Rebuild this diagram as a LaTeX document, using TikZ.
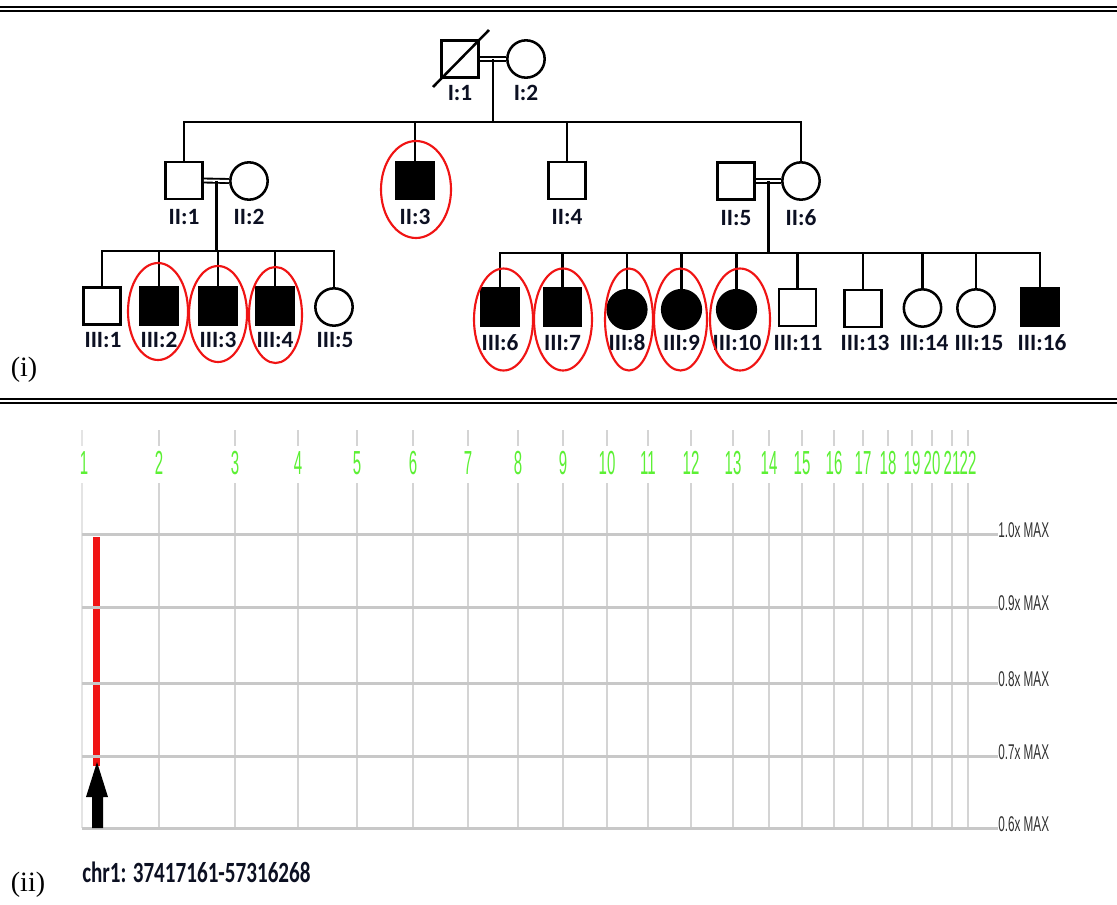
\documentclass[tikz,border=0pt]{standalone}
\usepackage{fontspec}
\usepackage{graphicx}
\usetikzlibrary{calc}
\newfontfamily\pedfont{Carlito}
\newfontfamily\arialf{Liberation Sans}
\newfontfamily\timesf{Liberation Serif}
\definecolor{pednavy}{RGB}{12,16,34}
\definecolor{chrgreen}{RGB}{92,240,52}
\definecolor{vgray}{RGB}{212,212,212}
\definecolor{hgray}{RGB}{200,200,200}
\definecolor{maxgray}{RGB}{50,50,50}
\definecolor{hlred}{RGB}{240,20,20}
\definecolor{firstgray}{RGB}{228,228,228}
\tikzset{
  pl/.style={line width=1.9pt, line join=miter},
  sq/.style={draw, line width=1.9pt, minimum size=28pt, inner sep=0pt, fill=white},
  sqa/.style={sq, fill=black},
  ci/.style={circle, draw, line width=1.9pt, minimum size=28pt, inner sep=0pt, fill=white},
  cia/.style={ci, fill=black, minimum size=29pt},
  dbl/.style={double, double distance=1.6pt, line width=1.4pt},
  lab/.style={font=\pedfont\bfseries\fontsize{17.5}{17.5}\selectfont, text=pednavy, inner sep=0pt},
  hl/.style={draw=hlred, line width=1.6pt},
  rule/.style={line width=1.5pt, black},
  vg/.style={draw=vgray, line width=1.5pt},
  hg/.style={draw=hgray, line width=2.25pt},
  chrnum/.style={font=\arialf\fontsize{25}{25}\selectfont, text=chrgreen, inner sep=0pt},
  maxlab/.style={font=\arialf\fontsize{16}{16}\selectfont, text=maxgray, inner sep=0pt, anchor=base west},
  partlab/.style={font=\timesf\fontsize{21}{21}\selectfont, inner sep=0pt}
}
\begin{document}
\begin{tikzpicture}[x=0.75pt,y=-0.75pt]
\useasboundingbox (0,0) rectangle (1117,904);
\fill[white] (0,0) rectangle (1117,904);

% double rules
\draw[rule] (0,6.5) -- (1117,6.5);
\draw[rule] (0,10.5) -- (1117,10.5);
\draw[rule] (0,399.2) -- (1117,399.2);
\draw[rule] (0,403.2) -- (1117,403.2);

% ---------------- Pedigree ----------------
% Generation I
\node[sq] (I1) at (460,59) {};
\node[ci] (I2) at (526,59) {};
\draw[pl] (433,87) -- (489,30);
\draw[dbl] (I1.east) -- (I2.west);
\coordinate (m1) at ($(I1.east)!0.5!(I2.west)$);
\node[lab] (lI1) at (460,93) {I:1};
\node[lab] (lI2) at (526,93) {I:2};

% Generation II
\node[sq]  (II1) at (184,180.5) {};
\node[ci]  (II2) at (249,181) {};
\node[sqa] (II3) at (415,180.5) {};
\node[sq]  (II4) at (567,180.5) {};
\node[sq]  (II5) at (736,181) {};
\node[ci]  (II6) at (801,181) {};
\draw[dbl] (II1.east) -- (II2.west);
\draw[dbl] (II5.east) -- (II6.west);
\coordinate (m2) at ($(II1.east)!0.5!(II2.west)$);
\coordinate (m3) at ($(II5.east)!0.5!(II6.west)$);
\coordinate (sI) at (493,122);
\draw[pl] (m1) -- (m1 |- sI);
\draw[pl] (II1.north) -- (II1.north |- sI) -- (II6.north |- sI) -- (II6.north);
\draw[pl] (II3.north) -- (II3.north |- sI);
\draw[pl] (II4.north) -- (II4.north |- sI);
\node[lab] (lII1) at (184,217) {II:1};
\node[lab] (lII2) at (249,217) {II:2};
\node[lab] (lII3) at (415,217) {II:3};
\node[lab] (lII4) at (567,217) {II:4};
\node[lab] (lII5) at (736,218) {II:5};
\node[lab] (lII6) at (801,218) {II:6};
\draw[hl] (416,189.5) ellipse [x radius=35, y radius=48.5];

% Generation III, left sibship
\node[sq]  (III1) at (102,306) {};
\node[sqa] (III2) at (159,306) {};
\node[sqa] (III3) at (218,306) {};
\node[sqa] (III4) at (275,306) {};
\node[ci]  (III5) at (334,307) {};
\coordinate (sL) at (218,251);
\draw[pl] (m2) -- (m2 |- sL);
\draw[pl] (III1.north) -- (III1.north |- sL) -- (III5.north |- sL) -- (III5.north);
\foreach \k in {III2,III3,III4} \draw[pl] (\k.north) -- (\k.north |- sL);
\node[lab] (lIII1) at (103,340) {III:1};
\node[lab] (lIII2) at (159,340) {III:2};
\node[lab] (lIII3) at (218,340) {III:3};
\node[lab] (lIII4) at (275,340) {III:4};
\node[lab] (lIII5) at (335,340) {III:5};
\draw[hl] (158,311.5) ellipse [x radius=30, y radius=48.5];
\draw[hl] (218,314) ellipse [x radius=29, y radius=48];
\draw[hl] (275.5,315) ellipse [x radius=26.5, y radius=48];

% Generation III, right sibship
\node[sqa] (III6)  at (500,307) {};
\node[sqa] (III7)  at (562.5,307) {};
\node[cia] (III8)  at (627,309.5) {};
\node[cia] (III9)  at (681.5,309.5) {};
\node[cia] (III10) at (736.5,309.5) {};
\node[sq]  (III11) at (797.5,307.5) {};
\node[sq]  (III13) at (863,308.5) {};
\node[ci]  (III14) at (922.5,308) {};
\node[ci]  (III15) at (976,308) {};
\node[sqa] (III16) at (1040,307) {};
\coordinate (sR) at (769,253);
\draw[pl] (m3) -- (m3 |- sR);
\draw[pl] (III6.north) -- (III6.north |- sR) -- (III16.north |- sR) -- (III16.north);
\foreach \k in {III7,III8,III9,III10,III11,III13,III14,III15} \draw[pl] (\k.north) -- (\k.north |- sR);
\node[lab] (lIII6)  at (500,343) {III:6};
\node[lab] (lIII7)  at (562.5,343) {III:7};
\node[lab] (lIII8)  at (627,343) {III:8};
\node[lab] (lIII9)  at (681.5,343) {III:9};
\node[lab] (lIII10) at (737,343) {III:10};
\node[lab] (lIII11) at (798,343) {III:11};
\node[lab] (lIII13) at (865,343) {III:13};
\node[lab] (lIII14) at (924,343) {III:14};
\node[lab] (lIII15) at (979,343) {III:15};
\node[lab] (lIII16) at (1042,343) {III:16};
\draw[hl] (503.5,319.5) ellipse [x radius=29.5, y radius=51];
\draw[hl] (563,319.5) ellipse [x radius=29, y radius=51];
\draw[hl] (629,319.5) ellipse [x radius=24, y radius=51];
\draw[hl] (680.5,319.5) ellipse [x radius=26.5, y radius=51];
\draw[hl] (740,319.5) ellipse [x radius=30, y radius=51];

\node[partlab] (pi) at (24,370) {(i)};

% ---------------- Chart ----------------
\draw[draw=firstgray, line width=1.5pt] (82,430) -- (82,446);
\draw[draw=firstgray, line width=1.5pt] (82,483) -- (82,828);
\node[chrnum] (chr1) at (84,463) {\scalebox{0.45}[1]{1}};
\foreach \n/\xx in {2/159,3/235,4/298,5/357,6/413,7/468,8/518,9/563,10/607,11/648,12/691,13/733,14/769,15/802,16/834,17/863,18/888,19/912,20/932,21/952,22/968}{
  \draw[vg] (\xx,430) -- (\xx,446);
  \draw[vg] (\xx,483) -- (\xx,828);
  \node[chrnum] (chr\n) at (\xx,463) {\scalebox{0.45}[1]{\n}};
}
% red signal bar (under the grid lines)
\fill[hlred] (93,537) rectangle (99.5,766);
\foreach \yy/\lv in {534/1.0,607/0.9,683/0.8,756/0.7,828/0.6}{
  \draw[hg] (82,\yy) -- (998,\yy);
  \node[maxlab] at (998,\yy+3) {\scalebox{0.55}[1]{\lv x MAX}};
}
% arrow
\fill[black] (97,762) -- (108,797) -- (103,797) -- (103,828) -- (92,828) -- (92,797) -- (86,797) -- cycle;

\node[anchor=base west, inner sep=0pt, font=\pedfont\bfseries\fontsize{22}{22}\selectfont, text=pednavy] (chrtxt) at (82,882) {\scalebox{0.72}[1]{chr1: 37417161-57316268}};
\node[partlab] (pii) at (28,885) {(ii)};
\end{tikzpicture}
\end{document}
